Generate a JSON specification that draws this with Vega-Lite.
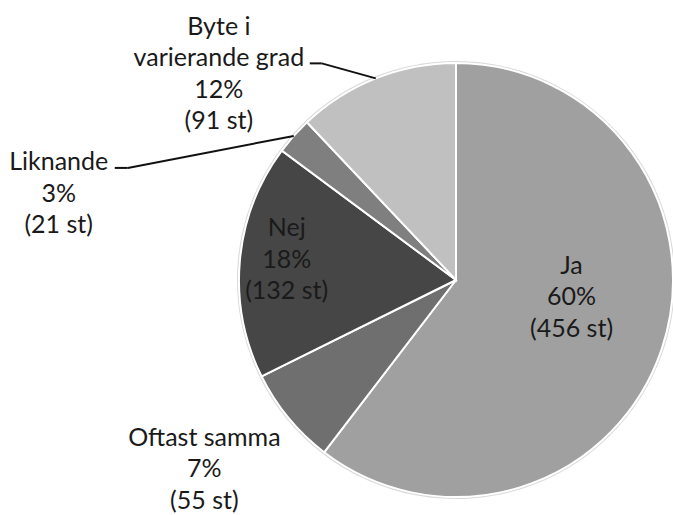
{
  "$schema": "https://vega.github.io/schema/vega-lite/v6.json",
  "width": 434,
  "height": 434,
  "autosize": {"type": "none"},
  "padding": {"left": 239, "top": 63, "right": 0, "bottom": 18},
  "background": "white",
  "config": {"view": {"stroke": null}},
  "data": {
    "values": [
      {"kategori": "Ja", "antal": 456, "ordning": 1, "etikett": "Ja\n60%\n(456 st)"},
      {"kategori": "Oftast samma", "antal": 55, "ordning": 2, "etikett": "Oftast samma\n7%\n(55 st)"},
      {"kategori": "Nej", "antal": 132, "ordning": 3, "etikett": "Nej\n18%\n(132 st)"},
      {"kategori": "Liknande", "antal": 21, "ordning": 4, "etikett": "Liknande\n3%\n(21 st)"},
      {"kategori": "Byte i varierande grad", "antal": 91, "ordning": 5, "etikett": "Byte i\nvarierande grad\n12%\n(91 st)"}
    ]
  },
  "layer": [
    {
      "mark": {"type": "arc", "radius": 219, "color": "#d9d9d9"},
      "encoding": {
        "theta": {"field": "antal", "type": "quantitative", "stack": true},
        "order": {"field": "ordning", "type": "quantitative"}
      }
    },
    {
      "mark": {"type": "arc", "radius": 217, "stroke": "white", "strokeWidth": 2},
      "encoding": {
        "theta": {"field": "antal", "type": "quantitative", "stack": true},
        "order": {"field": "ordning", "type": "quantitative"},
        "color": {
          "field": "kategori",
          "type": "nominal",
          "scale": {
            "domain": ["Ja", "Oftast samma", "Nej", "Liknande", "Byte i varierande grad"],
            "range": ["#a0a0a0", "#6f6f6f", "#464646", "#7f7f7f", "#c0c0c0"]
          },
          "legend": null
        }
      }
    },
    {
      "mark": {"type": "text", "radius": 122, "dy": -53.5, "lineBreak": "\n", "lineHeight": 31.5, "font": "Lato", "fontSize": 25, "color": "#1a1a1a", "align": "center", "baseline": "middle"},
      "encoding": {
        "theta": {"field": "antal", "type": "quantitative", "stack": true},
        "order": {"field": "ordning", "type": "quantitative"},
        "text": {"field": "etikett"},
        "opacity": {"condition": {"test": "datum.kategori === 'Ja'", "value": 1}, "value": 0}
      }
    },
    {
      "mark": {"type": "text", "radius": 300, "dx": -20, "dy": -33, "lineBreak": "\n", "lineHeight": 31.5, "font": "Lato", "fontSize": 25, "color": "#1a1a1a", "align": "center", "baseline": "middle"},
      "encoding": {
        "theta": {"field": "antal", "type": "quantitative", "stack": true},
        "order": {"field": "ordning", "type": "quantitative"},
        "text": {"field": "etikett"},
        "opacity": {"condition": {"test": "datum.kategori === 'Oftast samma'", "value": 1}, "value": 0}
      }
    },
    {
      "mark": {"type": "text", "radius": 170, "dy": -36.5, "lineBreak": "\n", "lineHeight": 31.5, "font": "Lato", "fontSize": 25, "color": "#1a1a1a", "align": "center", "baseline": "middle"},
      "encoding": {
        "theta": {"field": "antal", "type": "quantitative", "stack": true},
        "order": {"field": "ordning", "type": "quantitative"},
        "text": {"field": "etikett"},
        "opacity": {"condition": {"test": "datum.kategori === 'Nej'", "value": 1}, "value": 0}
      }
    },
    {
      "mark": {"type": "text", "radius": 300, "dx": -173, "dy": 81.5, "lineBreak": "\n", "lineHeight": 31.5, "font": "Lato", "fontSize": 25, "color": "#1a1a1a", "align": "center", "baseline": "middle"},
      "encoding": {
        "theta": {"field": "antal", "type": "quantitative", "stack": true},
        "order": {"field": "ordning", "type": "quantitative"},
        "text": {"field": "etikett"},
        "opacity": {"condition": {"test": "datum.kategori === 'Liknande'", "value": 1}, "value": 0}
      }
    },
    {
      "mark": {"type": "text", "radius": 260, "dx": -141, "dy": -11.5, "lineBreak": "\n", "lineHeight": 31.5, "font": "Lato", "fontSize": 25, "color": "#1a1a1a", "align": "center", "baseline": "middle"},
      "encoding": {
        "theta": {"field": "antal", "type": "quantitative", "stack": true},
        "order": {"field": "ordning", "type": "quantitative"},
        "text": {"field": "etikett"},
        "opacity": {"condition": {"test": "datum.kategori === 'Byte i varierande grad'", "value": 1}, "value": 0}
      }
    },
    {
      "transform": [
        {"window": [{"op": "sum", "field": "antal", "as": "kum"}], "sort": [{"field": "ordning"}], "frame": [null, 0]},
        {"joinaggregate": [{"op": "sum", "field": "antal", "as": "total"}]},
        {"calculate": "(datum.kum - datum.antal / 2) / datum.total * 2 * PI", "as": "mitt"},
        {"calculate": "sin(datum.mitt)", "as": "ux"},
        {"calculate": "cos(datum.mitt)", "as": "uy"},
        {"filter": "datum.kategori === 'Byte i varierande grad' || datum.kategori === 'Liknande'"}
      ],
      "layer": [
        {
          "transform": [{"filter": "datum.kategori === 'Byte i varierande grad'"}],
          "mark": {"type": "rule", "color": "#111111", "strokeWidth": 2, "x2Offset": -54, "y2Offset": -15},
          "encoding": {
            "x": {"field": "ux", "type": "quantitative", "scale": {"domain": [-1, 1], "nice": false, "zero": false}, "axis": null},
            "y": {"field": "uy", "type": "quantitative", "scale": {"domain": [-1, 1], "nice": false, "zero": false}, "axis": null},
            "x2": {"field": "ux"},
            "y2": {"field": "uy"}
          }
        },
        {
          "transform": [{"filter": "datum.kategori === 'Byte i varierande grad'"}],
          "mark": {"type": "rule", "color": "#111111", "strokeWidth": 2, "xOffset": -54, "yOffset": -15, "x2Offset": -66, "y2Offset": -15},
          "encoding": {
            "x": {"field": "ux", "type": "quantitative", "scale": {"domain": [-1, 1], "nice": false, "zero": false}, "axis": null},
            "y": {"field": "uy", "type": "quantitative", "scale": {"domain": [-1, 1], "nice": false, "zero": false}, "axis": null},
            "x2": {"field": "ux"},
            "y2": {"field": "uy"}
          }
        },
        {
          "transform": [{"filter": "datum.kategori === 'Liknande'"}],
          "mark": {"type": "rule", "color": "#111111", "strokeWidth": 2, "x2Offset": -166, "y2Offset": 32},
          "encoding": {
            "x": {"field": "ux", "type": "quantitative", "scale": {"domain": [-1, 1], "nice": false, "zero": false}, "axis": null},
            "y": {"field": "uy", "type": "quantitative", "scale": {"domain": [-1, 1], "nice": false, "zero": false}, "axis": null},
            "x2": {"field": "ux"},
            "y2": {"field": "uy"}
          }
        },
        {
          "transform": [{"filter": "datum.kategori === 'Liknande'"}],
          "mark": {"type": "rule", "color": "#111111", "strokeWidth": 2, "xOffset": -166, "yOffset": 32, "x2Offset": -179, "y2Offset": 32},
          "encoding": {
            "x": {"field": "ux", "type": "quantitative", "scale": {"domain": [-1, 1], "nice": false, "zero": false}, "axis": null},
            "y": {"field": "uy", "type": "quantitative", "scale": {"domain": [-1, 1], "nice": false, "zero": false}, "axis": null},
            "x2": {"field": "ux"},
            "y2": {"field": "uy"}
          }
        }
      ]
    }
  ]
}
